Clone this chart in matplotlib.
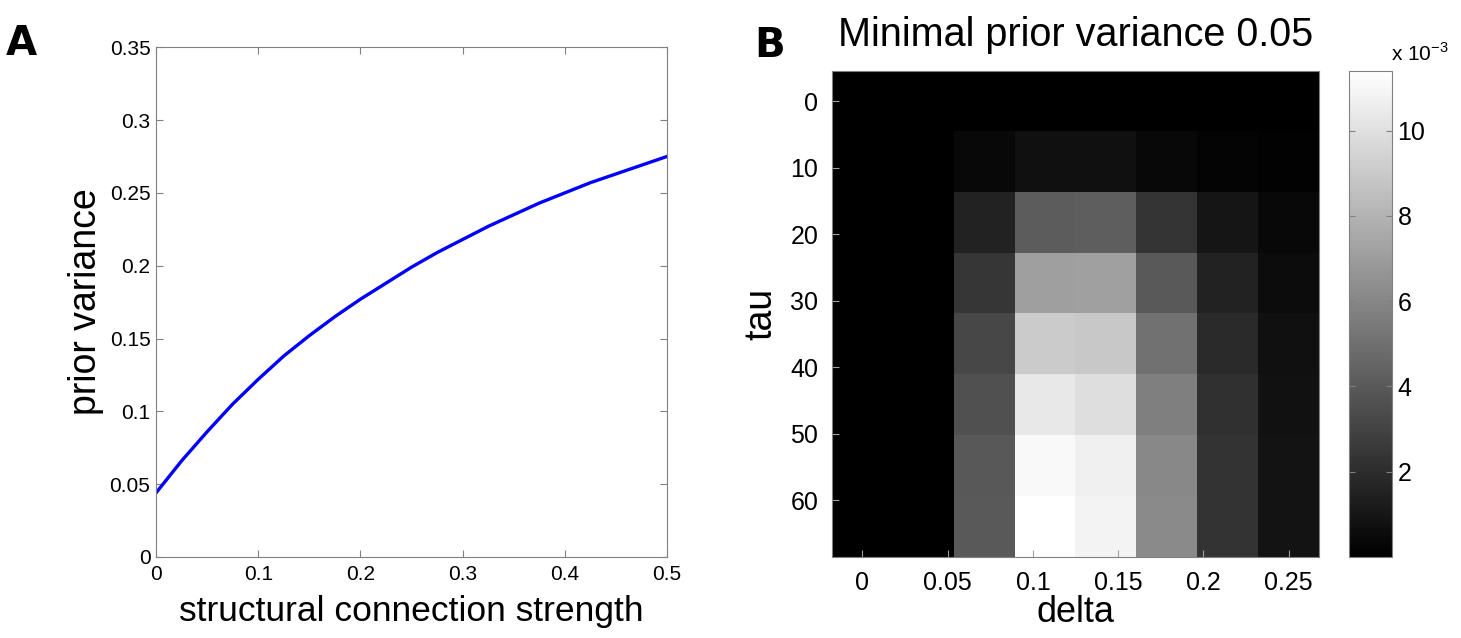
import numpy as np
import matplotlib
matplotlib.use("Agg")
import matplotlib.pyplot as plt

plt.rcParams["font.family"] = ["Liberation Sans", "DejaVu Sans"]

# Panel A: prior variance vs structural connection strength
strength = [0, 0.025, 0.05, 0.075, 0.1, 0.125, 0.15, 0.175, 0.2, 0.225, 0.25,
            0.275, 0.3, 0.325, 0.35, 0.375, 0.4, 0.425, 0.45, 0.475, 0.5]
prior_var = [0.044, 0.066, 0.086, 0.105, 0.122, 0.138, 0.152, 0.165, 0.177, 0.188, 0.199,
             0.209, 0.218, 0.227, 0.235, 0.243, 0.250, 0.257, 0.263, 0.269, 0.275]

# Panel B: heatmap (values in units of 1e-3), rows = tau, columns = delta
delta = [0, 0.0357, 0.0714, 0.1071, 0.1429, 0.1786, 0.2143, 0.25]
tau = [0, 9.14, 18.29, 27.43, 36.57, 45.71, 54.86, 64]
grid = [
    [0, 0, 0.00, 0.00, 0.00, 0.00, 0.00, 0.00],
    [0, 0, 0.36, 0.72, 0.72, 0.36, 0.22, 0.09],
    [0, 0, 1.52, 4.11, 4.20, 2.37, 0.94, 0.36],
    [0, 0, 2.41, 7.11, 7.15, 4.02, 1.52, 0.54],
    [0, 0, 3.17, 9.08, 8.94, 5.10, 1.88, 0.72],
    [0, 0, 3.58, 10.37, 9.92, 5.68, 2.15, 0.80],
    [0, 0, 3.93, 11.09, 10.73, 6.08, 2.28, 0.85],
    [0, 0, 4.02, 11.40, 10.86, 6.17, 2.28, 0.89],
]
delta_ticks = [0, 0.05, 0.1, 0.15, 0.2, 0.25]
tau_ticks = [0, 10, 20, 30, 40, 50, 60]
cbar_ticks = [2, 4, 6, 8, 10]

fig = plt.figure(figsize=(14.61, 6.38), dpi=100)

# ---- Panel A ----
ax1 = fig.add_axes([0.1068, 0.127, 0.3498, 0.799])
ax1.plot(strength, prior_var, color="#0000ff", linewidth=2.4)
ax1.set_xlim(0, 0.5)
ax1.set_ylim(0, 0.35)
ax1.set_xticks([0, 0.1, 0.2, 0.3, 0.4, 0.5])
ax1.set_xticklabels(["0", "0.1", "0.2", "0.3", "0.4", "0.5"])
ax1.set_yticks([0, 0.05, 0.1, 0.15, 0.2, 0.25, 0.3, 0.35])
ax1.set_yticklabels(["0", "0.05", "0.1", "0.15", "0.2", "0.25", "0.3", "0.35"])
ax1.tick_params(direction="in", top=True, right=True, length=5, color="#808080",
                labelsize=15, pad=4)
ax1.tick_params(axis="x", pad=6)
for s in ax1.spines.values():
    s.set_color("#808080")
ax1.set_xlabel("structural connection strength", fontsize=25.5, labelpad=8)
ax1.set_ylabel("prior variance", fontsize=27, labelpad=4)

# ---- Panel B ----
ax2 = fig.add_axes([0.5695, 0.127, 0.3333, 0.7618])
dx = (delta[1] - delta[0]) / 2
dy = (tau[1] - tau[0]) / 2
im = ax2.imshow(np.array(grid), cmap="gray", vmin=0, vmax=11.4, aspect="auto",
                interpolation="nearest",
                extent=[delta[0] - dx, delta[-1] + dx, tau[-1] + dy, tau[0] - dy])
ax2.set_xticks(delta_ticks)
ax2.set_xticklabels(["0", "0.05", "0.1", "0.15", "0.2", "0.25"])
ax2.set_yticks(tau_ticks)
ax2.set_yticklabels([str(t) for t in tau_ticks])
ax2.tick_params(direction="in", length=5, color="#a0a0a0", labelsize=18, pad=10)
for s in ax2.spines.values():
    s.set_color("#808080")
ax2.set_xlabel("delta", fontsize=26, labelpad=0)
ax2.set_ylabel("tau", fontsize=27, labelpad=8)
ax2.set_title("Minimal prior variance 0.05", fontsize=28.5, pad=18)

cax = fig.add_axes([0.9233, 0.127, 0.0294, 0.7618])
cb = fig.colorbar(im, cax=cax, ticks=cbar_ticks)
cb.ax.tick_params(direction="in", length=4, color="#808080", labelsize=18,
                  left=True, right=True, pad=4)
cb.outline.set_edgecolor("#808080")
fig.text(0.952, 0.905, r"x 10$^{\mathregular{-3}}$", fontsize=15)

fig.text(0.004, 0.9138, "A", fontsize=29, fontweight="bold", family="DejaVu Sans")
fig.text(0.516, 0.9107, "B", fontsize=29, fontweight="bold", family="DejaVu Sans")

fig.savefig("out.png", dpi=100)
